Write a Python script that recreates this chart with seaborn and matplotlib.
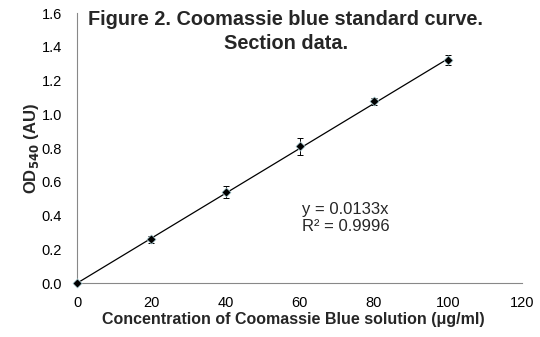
import numpy as np
import pandas as pd
import matplotlib
matplotlib.use("Agg")
import matplotlib.pyplot as plt
import seaborn as sns

# Data
concentration = [0, 20, 40, 60, 80, 100]
od540 = [0.0, 0.26, 0.54, 0.812, 1.077, 1.321]
od_err = [0.005, 0.02, 0.035, 0.05, 0.02, 0.03]
slope = 0.0133
r_squared = 0.9996
x_ticks = [0, 20, 40, 60, 80, 100, 120]
y_ticks = [0.0, 0.2, 0.4, 0.6, 0.8, 1.0, 1.2, 1.4, 1.6]

sns.set_style("white")
plt.rcParams['font.family'] = ['Liberation Sans', 'DejaVu Sans']

fig = plt.figure(figsize=(5.4, 3.37), dpi=100)
ax = fig.add_axes([0.143, 0.160, 0.824, 0.801])

df = pd.DataFrame({"conc": concentration, "od": od540, "err": od_err})
fit_x = np.array([min(concentration), max(concentration)])
fit_df = pd.DataFrame({"conc": fit_x, "od": slope * fit_x})

sns.lineplot(data=fit_df, x="conc", y="od", ax=ax, color="black", linewidth=0.9)
ax.errorbar(df["conc"], df["od"], yerr=df["err"], fmt="none", ecolor="black",
            elinewidth=0.7, capsize=2.2, capthick=0.7)
sns.scatterplot(data=df, x="conc", y="od", ax=ax, marker="D", color="black",
                s=22, edgecolor="#bfe3ea", linewidth=0.5, zorder=5, clip_on=False)

ax.set_xlim(0, 120)
ax.set_ylim(0, 1.6)
ax.set_xticks(x_ticks)
ax.set_yticks(y_ticks)
ax.set_xticklabels([str(t) for t in x_ticks])
ax.set_yticklabels([f"{t:.1f}" for t in y_ticks])
ax.tick_params(axis="both", direction="out", length=4, width=0.8, color="#888888",
               labelsize=10.5, labelcolor="black")
ax.tick_params(axis="y", pad=7)
ax.tick_params(axis="x", pad=5)
for side in ["top", "right"]:
    ax.spines[side].set_visible(False)
for side in ["left", "bottom"]:
    ax.spines[side].set_color("#888888")
    ax.spines[side].set_linewidth(0.8)

ax.set_xlabel("Concentration of Coomassie Blue solution (μg/ml)", fontsize=11.5,
              fontweight="bold")
ax.xaxis.set_label_coords(0.485, -0.108)
ax.set_ylabel("OD$_{\\mathbf{540}}$ (AU)", fontsize=12, fontweight="bold")
ax.yaxis.set_label_coords(-0.082, 0.5)

ax.text(0.4685, 1.01, "Figure 2. Coomassie blue standard curve.\nSection data.",
        transform=ax.transAxes, ha="center", va="top", fontsize=14.3,
        fontweight="bold", linespacing=1.3)

ax.text(0.506, 0.30, f"y = {slope}x\nR² = {r_squared}", transform=ax.transAxes,
        ha="left", va="top", fontsize=12, linespacing=1.12)

fig.savefig("out.png", dpi=100)
